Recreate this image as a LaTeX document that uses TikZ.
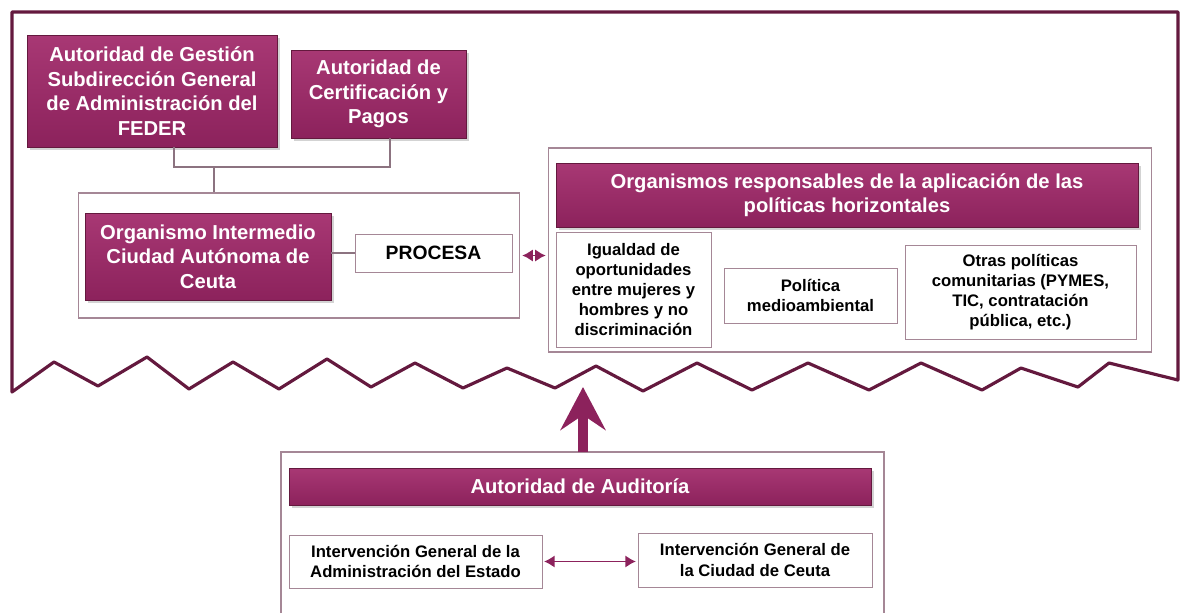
\documentclass[tikz,border=0pt]{standalone}
\usepackage{fontspec}
\setmainfont{Liberation Sans}
\usetikzlibrary{arrows.meta,shadows}

\definecolor{plum}{RGB}{140,34,92}
\definecolor{plumdark}{RGB}{100,25,62}
\definecolor{plumlight}{RGB}{168,56,116}
\definecolor{mauve}{RGB}{165,135,150}

\begin{document}
\begin{tikzpicture}[x=0.02cm, y=-0.02cm,
  mbox/.style={draw=plumdark, top color=plumlight, bottom color=plum, text=white, align=center, inner sep=2pt,
    font=\bfseries\fontsize{11.5}{14}\selectfont, drop shadow={shadow xshift=1.5pt, shadow yshift=-1.5pt, opacity=0.35}},
  wbox/.style={draw=mauve, fill=white, align=center, inner sep=2pt, font=\bfseries\fontsize{9.5}{11.5}\selectfont},
  frm/.style={draw=mauve, line width=0.6pt},
  conn/.style={draw=mauve!85!black, line width=0.6pt},
  dbl/.style={plum, line width=1pt, {Latex[length=6pt,width=7pt]}-{Latex[length=6pt,width=7pt]}, shorten <=1pt, shorten >=1pt}]
\useasboundingbox (0,0) rectangle (1181,613);

% outer frame with torn bottom
\draw[plumdark, line width=1.8pt, line join=round] (12,392) -- (12,12) -- (1178,12) -- (1178,380)
  -- (1109,363) -- (1078,387) -- (1021,368) -- (982,390) -- (921,363) -- (869,390)
  -- (808,363) -- (752,390) -- (697,363) -- (643,391) -- (596,366) -- (555,388)
  -- (507,368) -- (463,388) -- (415,363) -- (371,387) -- (327,359) -- (279,389)
  -- (233,362) -- (189,389) -- (147,357) -- (98,386) -- (54,362) -- cycle;

% top authorities
\node[mbox, minimum width=5cm, minimum height=2.24cm] (gestion) at (152,91)
  {Autoridad de Gestión\\Subdirección General\\de Administración del\\FEDER};
\node[mbox, minimum width=3.5cm, minimum height=1.76cm] (cert) at (378.5,94)
  {Autoridad de\\Certificación y\\Pagos};

% organismo intermedio
\node[frm, minimum width=8.84cm, minimum height=2.5cm] (orgfrm) at (299,255.5) {};
\node[mbox, minimum width=4.92cm, minimum height=1.74cm] (orgint) at (208,256.5)
  {Organismo Intermedio\\Ciudad Autónoma de\\Ceuta};
\node[wbox, minimum width=3.14cm, minimum height=0.76cm, font=\bfseries\fontsize{11}{13}\selectfont] (procesa) at (433.5,253) {PROCESA};

\coordinate (j1) at (214,167);
\draw[conn] ([xshift=0.44cm]gestion.south) |- ([xshift=0.23cm]cert.south |- j1) -- ([xshift=0.23cm]cert.south);
\draw[conn] (j1) -- (j1 |- orgfrm.north);
\draw[conn] (procesa.west -| orgint.east) -- (procesa.west);

% politicas horizontales
\node[frm, minimum width=12.08cm, minimum height=4.08cm] (polfrm) at (850,250) {};
\node[mbox, minimum width=11.64cm, minimum height=1.28cm] (polhz) at (847,195)
  {Organismos responsables de la aplicación de las\\políticas horizontales};
\node[wbox, minimum width=3.1cm, minimum height=2.3cm] (igualdad) at (633.5,289.5)
  {Igualdad de\\oportunidades\\entre mujeres y\\hombres y no\\discriminación};
\node[wbox, minimum width=3.46cm, minimum height=1.1cm] (politica) at (810.5,295.5)
  {Política\\medioambiental};
\node[wbox, minimum width=4.62cm, minimum height=1.88cm] (otras) at (1020.5,292)
  {Otras políticas\\comunitarias (PYMES,\\TIC, contratación\\pública, etc.)};

\draw[dbl] (orgfrm.east) -- (polfrm.west |- orgfrm.east);

% autoridad de auditoria
\draw[frm] (281,613) -- (281,452) -- (884,452) -- (884,613);
\node[mbox, minimum width=11.64cm, minimum height=0.74cm] (audit) at (580,486.5) {Autoridad de Auditoría};
\node[wbox, minimum width=5.06cm, minimum height=1.06cm] (igae) at (415.5,561.5)
  {Intervención General de la\\Administración del Estado};
\node[wbox, minimum width=4.68cm, minimum height=1.08cm] (igcc) at (755,560)
  {Intervención General de\\la Ciudad de Ceuta};
\draw[dbl] (igae.east) -- (igcc.west |- igae.east);

\coordinate (audtop) at (583,452);
\coordinate (tip) at (583,387);
\draw[plum, line width=5.5pt, -{Stealth[length=0.86cm, width=0.9cm, inset=0.3cm]}] (audtop) -- (tip);

\end{tikzpicture}
\end{document}
